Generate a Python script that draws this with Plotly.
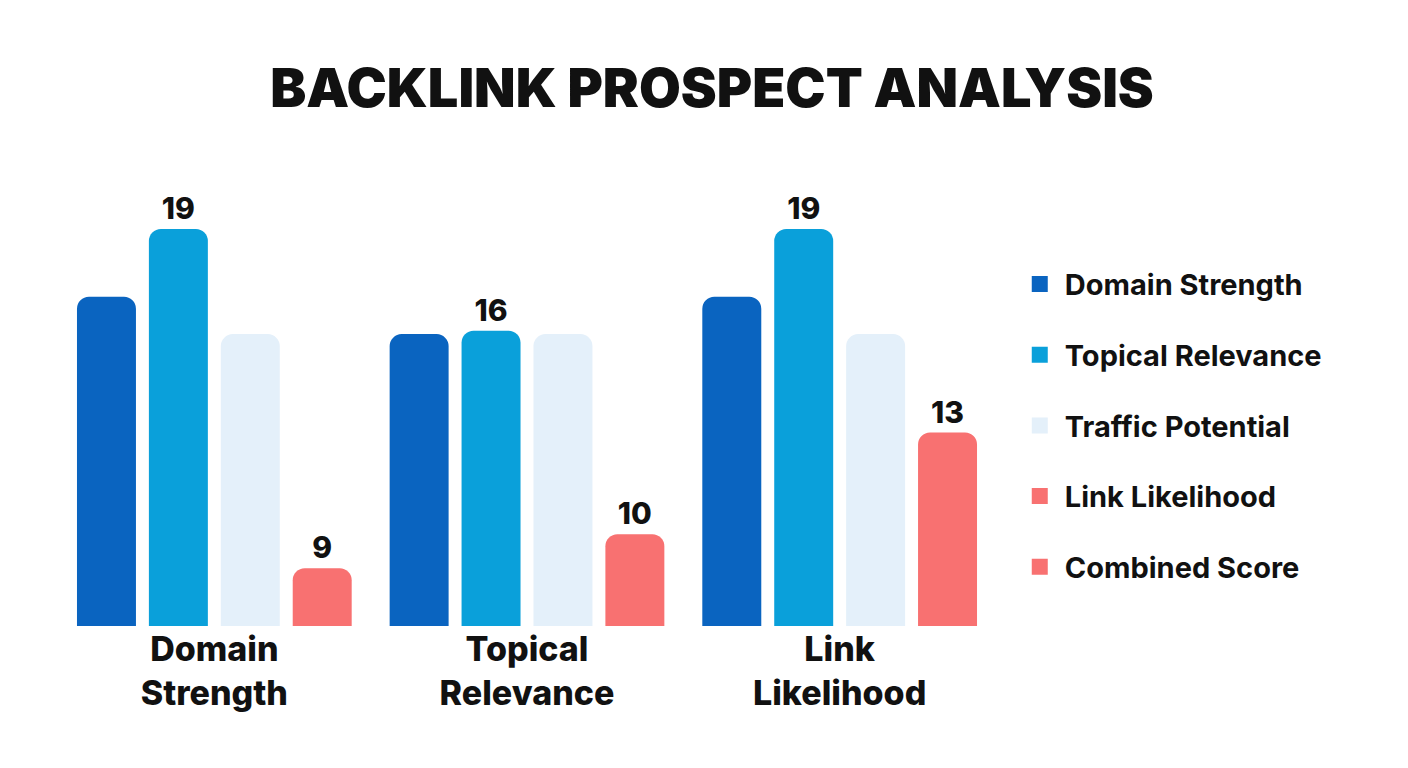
import plotly.graph_objects as go

categories = ["Domain<br>Strength", "Topical<br>Relevance", "Link<br>Likelihood"]
series = ["Domain Strength", "Topical Relevance", "Traffic Potential", "Link Likelihood"]
legend_items = ["Domain Strength", "Topical Relevance", "Traffic Potential", "Link Likelihood", "Combined Score"]
values = {
    "Domain Strength": [17, 15.9, 17],
    "Topical Relevance": [19, 16, 19],
    "Traffic Potential": [15.9, 15.9, 15.9],
    "Link Likelihood": [9, 10, 13],
}
labeled = {"Topical Relevance", "Link Likelihood"}
colors = {
    "Domain Strength": "#0a64c0",
    "Topical Relevance": "#0aa0da",
    "Traffic Potential": "#e4f0fa",
    "Link Likelihood": "#f87171",
    "Combined Score": "#f87171",
}

font = "Inter, Open Sans, sans-serif"
fig = go.Figure()
for s in series:
    fig.add_trace(go.Bar(
        x=categories, y=values[s], name=s, showlegend=False,
        marker=dict(color=colors[s], cornerradius=12, line=dict(width=0)),
        text=[f"{v:g}" for v in values[s]] if s in labeled else None,
        textposition="outside", cliponaxis=False,
        textfont=dict(size=30, color="#111", family=font, weight=800),
    ))
for s in legend_items:
    fig.add_trace(go.Scatter(x=[None], y=[None], name=s, mode="markers", legendgroup=s,
                             marker=dict(symbol="square", size=30, color=colors[s])))

fig.update_layout(
    width=1408, height=768, paper_bgcolor="white", plot_bgcolor="white",
    title=dict(text="BACKLINK PROSPECT ANALYSIS", x=0.5, xanchor="center", y=0.92,
               font=dict(size=54, color="#111", family=font, weight=900)),
    margin=dict(l=50, r=420, t=170, b=150),
    barmode="group", bargap=0.08, bargroupgap=0.18,
    xaxis=dict(showgrid=False, showline=False, ticks="",
               tickfont=dict(size=34, color="#111", family=font, weight=800)),
    yaxis=dict(visible=False, range=[7.3, 20.5]),
    legend=dict(x=1.02, y=0.82, yanchor="top", itemwidth=40, tracegroupgap=30,
                itemsizing="trace",
                font=dict(size=29, color="#111", family=font, weight=700)),
    showlegend=True,
)
fig.write_html("out.html")
